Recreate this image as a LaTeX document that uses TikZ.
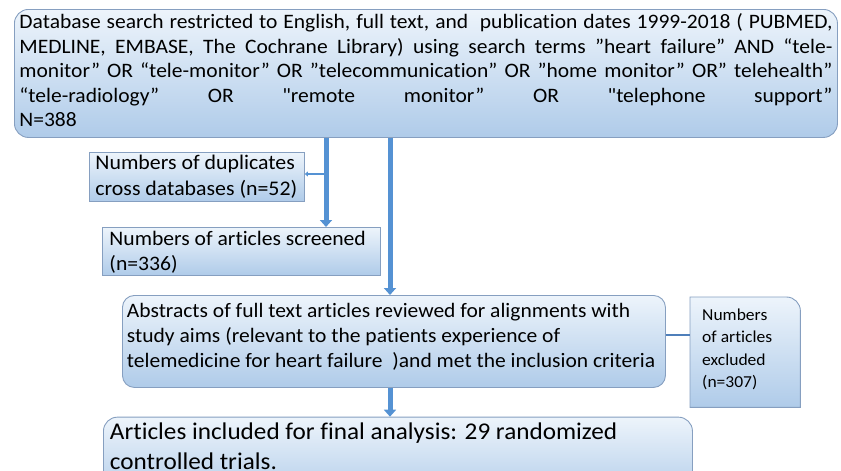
\documentclass[tikz,border=0pt]{standalone}
\usepackage{fontspec}
\setmainfont{Carlito}[FakeStretch=1.05,Ligatures={TeXOff,NoCommon}]
\usetikzlibrary{arrows.meta,backgrounds}
\definecolor{boxtop}{HTML}{EDF4FB}
\definecolor{boxbot}{HTML}{AFCBE9}
\definecolor{boxline}{HTML}{869FC0}
\definecolor{flow}{HTML}{5592D3}
\definecolor{sidelink}{HTML}{4F7FBA}
\newcommand{\jline}[1]{\makebox[813pt][s]{#1}}

\begin{document}
\begin{tikzpicture}[x=1pt,y=-1pt,
	box/.style={draw=boxline,line width=0.9pt,top color=boxtop,bottom color=boxbot,inner ysep=0pt,align=left,anchor=north west,
		execute at begin node={\spaceskip=0pt\xspaceskip=0pt}},
	roundbox/.style={box,rounded corners=14pt},
	flowline/.style={draw=flow,line width=5pt,-{Triangle[width=12pt,length=7pt]}},
	dupline/.style={draw=flow,line width=1.6pt,-{Triangle[width=5pt,length=3pt]}},
	sideline/.style={draw=sidelink,line width=2.6pt},
	exbox/.style={draw=boxline,line width=0.9pt,top color=boxtop,bottom color=boxbot}]
	\useasboundingbox (0,0) rectangle (841,471);
	% boxes
	\draw(14,9) node[roundbox,inner xsep=5pt,text width=813pt,text height=19.3pt,text depth=108.7pt,font=\fontsize{20.5}{24.5}\selectfont](db){%
		\jline{Database search restricted to English, full text, and\ \ publication dates 1999-2018 ( PUBMED,}\\
		\jline{MEDLINE, EMBASE, The Cochrane Library) using search terms ”heart failure” AND “tele-}\\
		\jline{monitor” OR “tele-monitor” OR ”telecommunication” OR ”home monitor” OR” telehealth”}\\
		\jline{“tele-radiology” OR "remote monitor” OR "telephone support”}\\
		N=388};
	\draw(89,152) node[box,inner xsep=6pt,text width=203pt,text height=17.3pt,text depth=31.7pt,font=\fontsize{20.8}{25.7}\selectfont](dup){Numbers of duplicates\\cross databases (n=52)};
	\draw(102,227) node[box,inner xsep=7pt,text width=264pt,text height=18pt,text depth=30pt,font=\fontsize{20.6}{25}\selectfont](screened){Numbers of articles screened\\(n=336)};
	\draw(122,295) node[box,rounded corners=12pt,inner xsep=4.5pt,text width=534pt,text height=21.7pt,text depth=70.3pt,font=\fontsize{20.5}{25.3}\selectfont](abstracts){Abstracts of full text articles reviewed for alignments with\\
		study aims (relevant to the patients experience of\\
		telemedicine for heart failure\ \ )and met the inclusion criteria};
	\draw(690,297) node[anchor=north west,align=left,inner ysep=0pt,inner xsep=12pt,text width=86pt,text height=23pt,text depth=87pt,font=\fontsize{16.7}{22.4}\selectfont,
		execute at begin node={\spaceskip=0pt\xspaceskip=0pt}](ex){Numbers\\of articles\\excluded\\(n=307)};
	\draw(103,416.7) node[roundbox,inner xsep=6.5pt,text width=576pt,text height=22.6pt,text depth=62pt,font=\fontsize{24}{29.7}\selectfont](final){Articles included for final analysis: 29 randomized\\controlled trials.};
	\begin{scope}[on background layer]
		\draw[exbox] (ex.south west) -- (ex.north west) -- ([xshift=-14pt]ex.north east) arc[start angle=90,end angle=0,radius=14pt] -- (ex.south east) -- cycle;
	\end{scope}
	% connectors
	\coordinate (c1) at (326,0);
	\coordinate (c2) at (390,0);
	\coordinate (c3) at (0,335);
	\coordinate (c4) at (0,174);
	\draw[flowline] (db.south -| c1) -- (screened.north -| c1);
	\draw[dupline] (c1 |- c4) -- (dup.east |- c4);
	\draw[flowline] (db.south -| c2) -- (abstracts.north -| c2);
	\draw[flowline] (abstracts.south -| c2) -- (final.north -| c2);
	\draw[sideline] (abstracts.east |- c3) -- (ex.west |- c3);
\end{tikzpicture}
\end{document}
